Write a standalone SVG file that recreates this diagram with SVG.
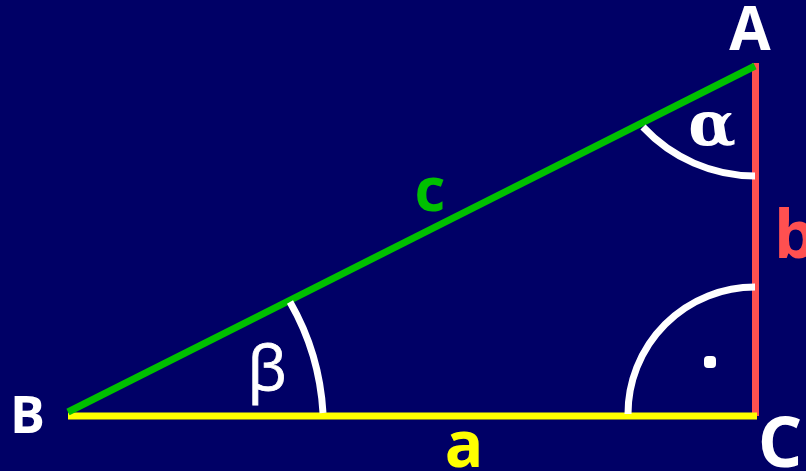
<svg xmlns="http://www.w3.org/2000/svg" width="806" height="471" viewBox="0 0 806 471">
<style>
.side{fill:none;stroke-width:7;stroke-linecap:butt}
.arc{fill:none;stroke:#ffffff;stroke-width:7;stroke-linecap:butt}
.lbl{font-family:"Open Sans","Liberation Sans",sans-serif;font-weight:bold;text-anchor:middle}
.ang{font-family:"Open Sans","Liberation Sans",sans-serif;fill:#ffffff;text-anchor:middle}
.alpha{font-family:"DejaVu Serif","Liberation Serif",serif;font-weight:bold;fill:#ffffff;text-anchor:middle}
</style>
<rect x="0" y="0" width="806" height="471" fill="#000066"/>
<g id="sides">
<line class="side" x1="755.5" y1="63" x2="755.5" y2="416" stroke="#ff5050"/>
<line class="side" x1="68" y1="416" x2="757" y2="416" stroke="#ffff00"/>
<line class="side" x1="68" y1="412" x2="755" y2="66" stroke="#00c000"/>
</g>
<g id="angles">
<path class="arc" d="M643,127 A154,154 0 0 0 755,176"/>
<path class="arc" d="M290,302 A252,252 0 0 1 323,413"/>
<path class="arc" d="M755,287 A127,127 0 0 0 628,414"/>
<rect x="704" y="356" width="12" height="12" rx="4" fill="#ffffff"/>
</g>
<g id="labels">
<text class="lbl" x="750" y="50" font-size="60" fill="#ffffff">A</text>
<text class="lbl" x="27.5" y="433" font-size="52" fill="#ffffff">B</text>
<text class="lbl" x="780" y="467" font-size="70" fill="#ffffff">C</text>
<text class="lbl" x="430" y="211" font-size="60" fill="#00c000">c</text>
<text class="lbl" x="464" y="467" font-size="64" fill="#ffff00">a</text>
<text class="lbl" x="774" y="258" font-size="66" fill="#ff5050" style="text-anchor:start">b</text>
<text class="alpha" x="712" y="145" font-size="62">α</text>
<text class="ang" x="267" y="390" font-size="62" style="stroke:#ffffff;stroke-width:0.8">β</text>
</g>
</svg>
